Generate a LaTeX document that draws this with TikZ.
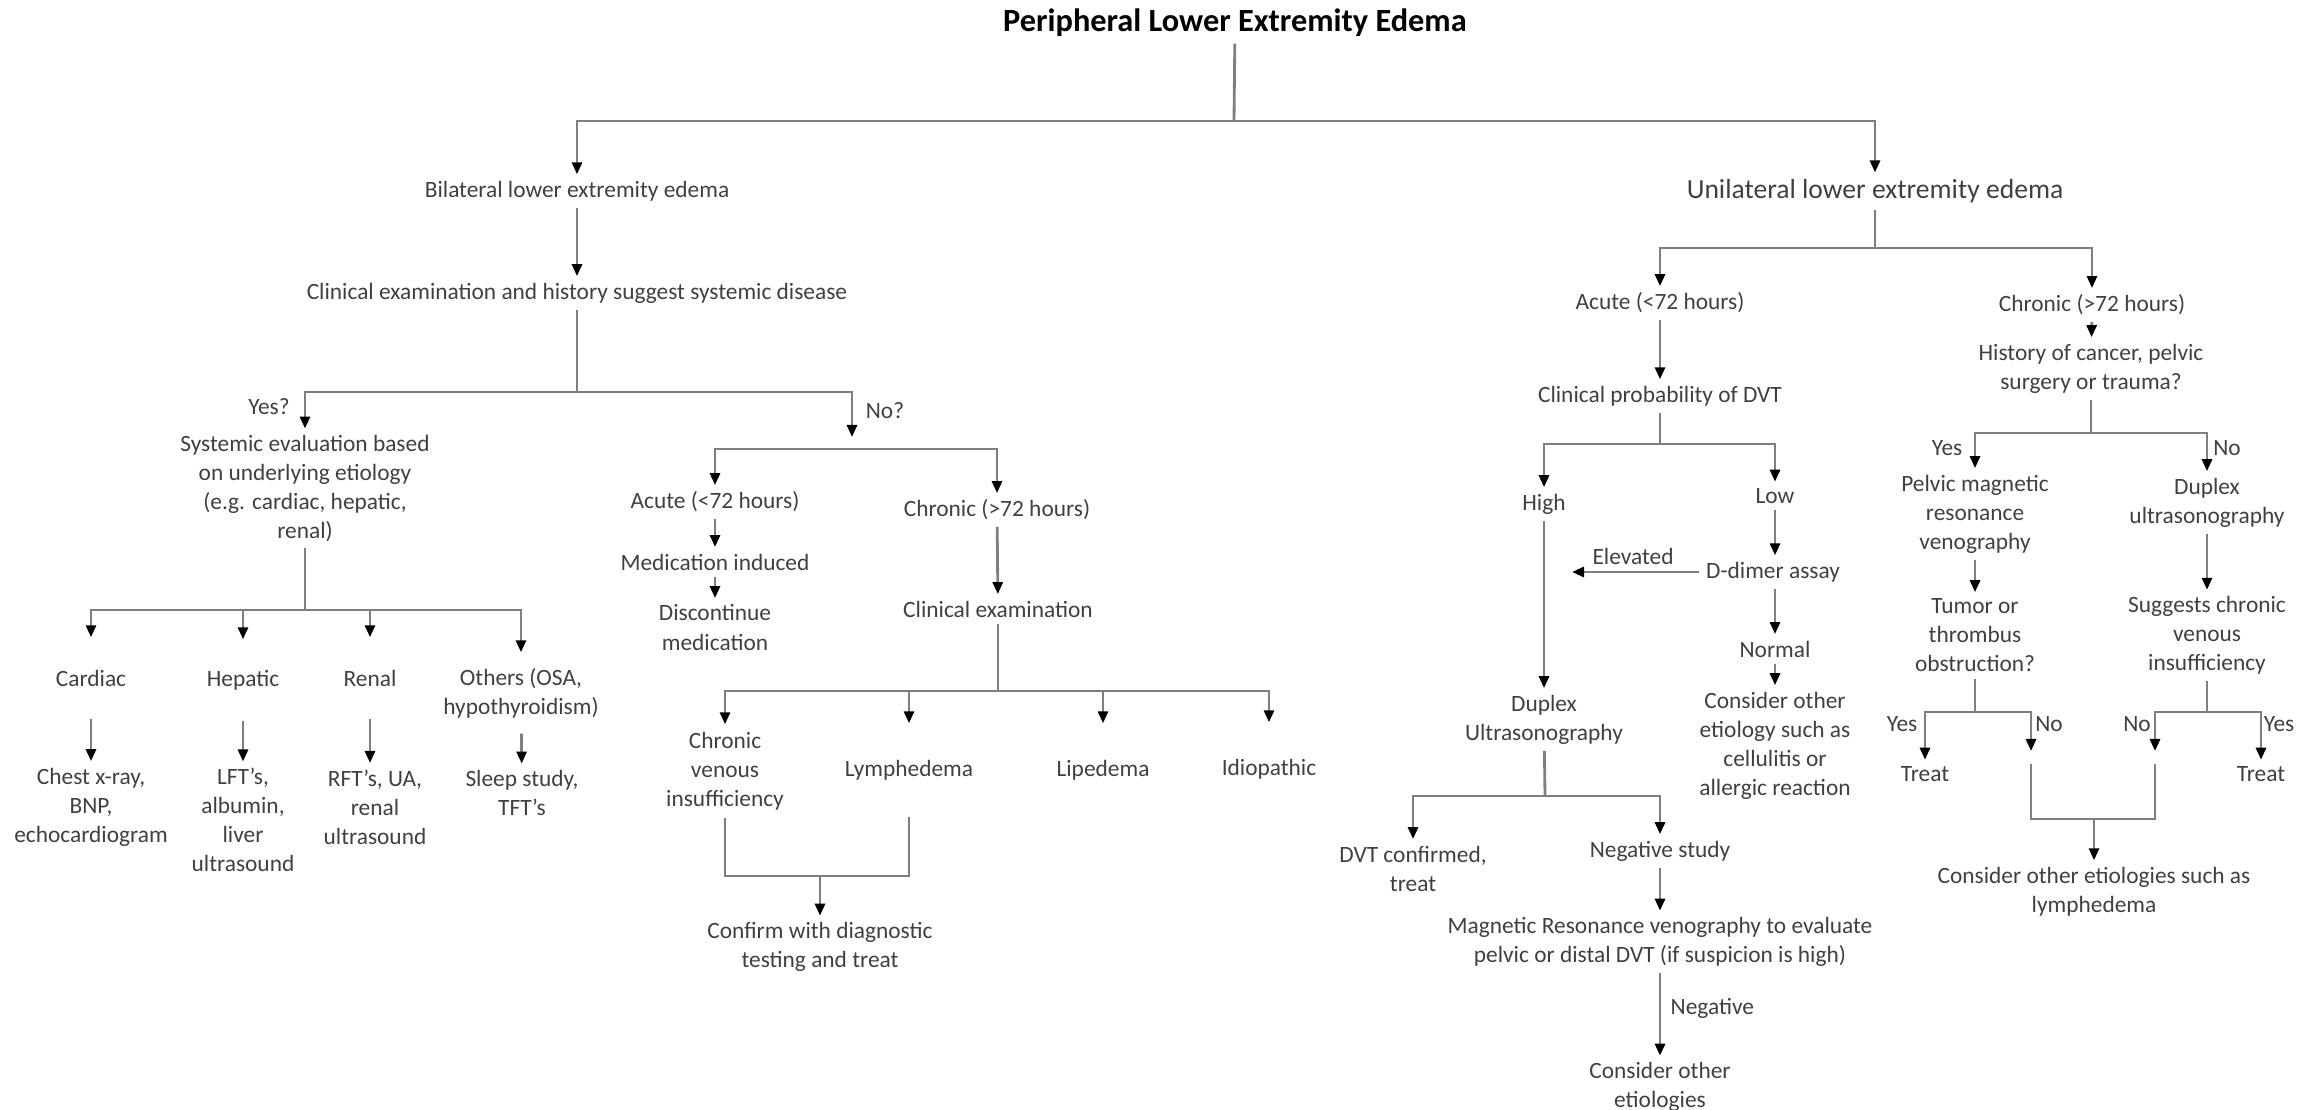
\documentclass[tikz,border=0pt]{standalone}
\usepackage{fontspec}
\setmainfont{Carlito}
\usepackage{xcolor}
\usetikzlibrary{arrows.meta,positioning}
\definecolor{txtgray}{HTML}{404040}
\definecolor{linegray}{HTML}{7F7F7F}

\begin{document}
\begin{tikzpicture}[
    x=0.01cm, y=-0.01cm,
    txt/.style={align=center, inner sep=0.06cm, text=txtgray, font=\fontsize{6.65}{8.25}\selectfont},
    big/.style={txt, font=\fontsize{7.85}{9.6}\selectfont},
    ttl/.style={inner sep=0.06cm, font=\bfseries\fontsize{9.2}{11}\selectfont},
    lbl/.style={txt, inner sep=0.02cm},
    conn/.style={draw=linegray, line width=0.8pt},
    arrow/.style={conn, -{Triangle[length=0.12cm, width=0.1cm, color=black]}}
]
    \useasboundingbox (0,0) rectangle (2318,1110);

    % Title
    \node[ttl] (top) at (1235,23) {Peripheral Lower Extremity Edema};
    \coordinate (j0) at (1234,121);
    \node[txt] (bil) at (577,191) {Bilateral lower extremity edema};
    \node[big] (uni) at (1875,191) {Unilateral lower extremity edema};

    % Bilateral branch
    \node[txt] (sysd) at (577,293) {Clinical examination and history suggest systemic disease};
    \coordinate (j1) at (577,392);
    \node[lbl] (yes1) at (269,407) {Yes?};
    \node[lbl] (no1) at (885,411) {No?};
    \node[txt] (syse) at (305,488.5) {Systemic evaluation based\\on underlying etiology\\(e.g. cardiac, hepatic,\\renal)};

    % Systemic causes
    \coordinate (j2) at (305,610);
    \node[txt, minimum height=0.8cm] (card) at (91,678) {Cardiac};
    \node[txt, minimum height=0.8cm] (hep) at (243,680) {Hepatic};
    \node[txt, minimum height=0.8cm] (ren) at (370,678) {Renal};
    \node[txt, minimum height=0.8cm] (oth) at (521,693) {Others (OSA,\\hypothyroidism)};
    \node[txt] (cardt) at (91,807) {Chest x-ray,\\BNP,\\echocardiogram};
    \node[txt] (hept) at (243,820) {LFT’s,\\albumin,\\liver\\ultrasound};
    \node[txt] (rent) at (375,807) {RFT’s, UA,\\renal\\ultrasound};
    \node[txt] (otht) at (522,793) {Sleep study,\\TFT’s};

    % No systemic disease
    \coordinate (nob) at (852,437);
    \coordinate (j2b) at (852,449);
    \node[txt] (acu1) at (715,502) {Acute (<72 hours)};
    \node[txt] (chr1) at (997,510) {Chronic (>72 hours)};
    \node[txt] (med) at (715,562) {Medication induced};
    \node[txt] (disc) at (715,627.5) {Discontinue\\medication};
    \node[txt] (clex) at (998,609) {Clinical examination};
    \coordinate (j3) at (998,691);
    \node[txt, minimum height=0.92cm] (cvi) at (725,771) {Chronic\\venous\\insufficiency};
    \node[txt, minimum height=0.92cm] (lym) at (909,770) {Lymphedema};
    \node[txt, minimum height=0.92cm] (lip) at (1103,770) {Lipedema};
    \node[txt, minimum height=0.92cm] (idi) at (1269,769) {Idiopathic};
    \coordinate (m1) at (820,876);
    \node[txt] (conf) at (820,947) {Confirm with diagnostic\\testing and treat};

    % Unilateral, acute
    \coordinate (j4) at (1875,248);
    \node[txt] (acu2) at (1660,303) {Acute (<72 hours)};
    \node[txt] (chr2) at (2092,305) {Chronic (>72 hours)};
    \node[txt] (prob) at (1660,396) {Clinical probability of DVT};
    \coordinate (j5) at (1660,444);
    \node[txt] (hi) at (1544,504) {High};
    \node[txt] (lo) at (1775,496) {Low};
    \node[txt] (dd) at (1773,572) {D-dimer assay};
    \node[lbl] (elv) at (1633,556) {Elevated};
    \coordinate (elvend) at (1572,572);
    \node[txt] (nor) at (1775,649) {Normal};
    \node[txt] (oth2) at (1775,745.5) {Consider other\\etiology such as\\cellulitis or\\allergic reaction};
    \node[txt] (dup) at (1544,719.5) {Duplex\\Ultrasonography};
    \coordinate (j6) at (1545,796);
    \node[txt] (dvt) at (1413,868.5) {DVT confirmed,\\treat};
    \node[txt] (neg) at (1660,851) {Negative study};
    \node[txt] (mrv) at (1660,942) {Magnetic Resonance venography to evaluate\\pelvic or distal DVT (if suspicion is high)};
    \node[lbl, anchor=west] (negl) at (1668,1008) {Negative};
    \node[txt] (cons2) at (1660,1087) {Consider other\\etiologies};

    % Unilateral, chronic
    \node[txt] (hist) at (2091,368.5) {History of cancer, pelvic\\surgery or trauma?};
    \coordinate (j7) at (2091,433);
    \node[lbl] (yes2) at (1947,448) {Yes};
    \node[lbl] (no2) at (2227,448) {No};
    \node[txt] (pmr) at (1975,514) {Pelvic magnetic\\resonance\\venography};
    \node[txt] (dus) at (2207,502.5) {Duplex\\ultrasonography};
    \node[txt] (tum) at (1975,635.5) {Tumor or\\thrombus\\obstruction?};
    \node[txt] (sug) at (2207,635.5) {Suggests chronic\\venous\\insufficiency};
    \coordinate (j8) at (1975,712);
    \coordinate (j9) at (2207,712);
    \node[lbl] (yes3) at (1902,724) {Yes};
    \node[lbl] (no3) at (2049,724) {No};
    \node[lbl] (no4) at (2137,724) {No};
    \node[lbl] (yes4) at (2279,724) {Yes};
    \node[txt] (tr1) at (1925,774) {Treat};
    \node[txt] (tr2) at (2261,774) {Treat};
    \coordinate (nx1) at (2031,751);
    \coordinate (nx2) at (2155,751);
    \coordinate (ny1) at (2031,764);
    \coordinate (ny2) at (2155,764);
    \coordinate (m2) at (2094,819);
    \node[txt] (cons3) at (2094,891.5) {Consider other etiologies such as\\lymphedema};

    % Arrows
    \draw[conn] (top) -- (j0);
    \draw[arrow] (j0) -| (bil);
    \draw[arrow] (j0) -| (uni);

    \draw[arrow] (bil) -- (sysd);
    \draw[conn] (sysd) -- (j1);
    \draw[arrow] (j1) -| (syse);
    \draw[arrow] (j1) -| (nob);
    \draw[conn] (syse) -- (j2);
    \draw[arrow] (j2) -| (card);
    \draw[arrow] (j2) -| (hep);
    \draw[arrow] (j2) -| (ren);
    \draw[arrow] (j2) -| (oth);
    \draw[arrow] (card) -- (cardt);
    \draw[arrow] (hep) -- (hept);
    \draw[arrow] (ren) -- (ren |- rent.north);
    \draw[arrow] (oth) -- (otht);

    \draw[arrow] (j2b) -| (acu1);
    \draw[arrow] (j2b) -| (chr1);
    \draw[arrow] (acu1) -- (med);
    \draw[arrow] (med) -- (disc);
    \draw[arrow] (chr1) -- (clex);
    \draw[conn] (clex) -- (j3);
    \draw[arrow] (j3) -| (cvi);
    \draw[arrow] (j3) -| (lym);
    \draw[arrow] (j3) -| (lip);
    \draw[arrow] (j3) -| (idi);
    \draw[conn] (cvi) |- (m1) -| (lym);
    \draw[arrow] (m1) -- (conf);

    \draw[conn] (uni) -- (j4);
    \draw[arrow] (j4) -| (acu2);
    \draw[arrow] (j4) -| (chr2);
    \draw[arrow] (acu2) -- (prob);
    \draw[conn] (prob) -- (j5);
    \draw[arrow] (j5) -| (hi);
    \draw[arrow] (j5) -| (lo);
    \draw[arrow] (hi) -- (dup);
    \draw[arrow] (lo) -- (lo |- dd.north);
    \draw[arrow] (dd) -- (elvend);
    \draw[arrow] (dd.south -| nor) -- (nor);
    \draw[arrow] (nor) -- (oth2);
    \draw[conn] (dup) -- (j6);
    \draw[arrow] (j6) -| (dvt);
    \draw[arrow] (j6) -| (neg);
    \draw[arrow] (neg) -- (mrv);
    \draw[arrow] (mrv) -- (cons2);

    \draw[arrow] (chr2) -- (hist);
    \draw[conn] (hist) -- (j7);
    \draw[arrow] (j7) -| (pmr);
    \draw[arrow] (j7) -| (dus);
    \draw[arrow] (pmr) -- (tum);
    \draw[arrow] (dus) -- (sug);
    \draw[conn] (tum) -- (j8);
    \draw[conn] (sug) -- (j9);
    \draw[arrow] (j8) -| (tr1);
    \draw[arrow] (j8) -| (nx1);
    \draw[arrow] (j9) -| (nx2);
    \draw[arrow] (j9) -| (tr2);
    \draw[conn] (ny1) |- (m2);
    \draw[conn] (ny2) |- (m2);
    \draw[arrow] (m2) -- (cons3);

\end{tikzpicture}
\end{document}
